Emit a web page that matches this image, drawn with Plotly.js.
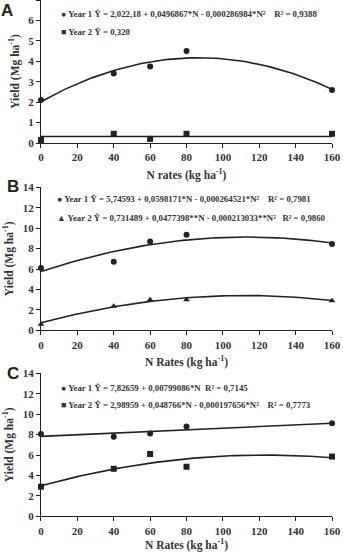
<!DOCTYPE html>
<html>
<head>
<meta charset="utf-8">
<script src="https://cdn.plot.ly/plotly-3.0.1.min.js"></script>
<style>
  html, body { margin: 0; padding: 0; background: #fff; }
  #chart { width: 343px; height: 552px; }
</style>
</head>
<body>
<div id="chart"></div>
<script>
// Nitrogen rates (kg ha-1)
const nRates = [0, 40, 60, 80, 160];

// Panel A – observed yields (Mg ha-1)
const aYear1 = [2.1, 3.4, 3.75, 4.5, 2.6];
const aYear2 = [0.15, 0.45, 0.2, 0.45, 0.45];
// Panel B
const bYear1 = [6.1, 6.7, 8.7, 9.35, 8.45];
const bYear2 = [0.6, 2.35, 3.0, 3.0, 2.9];
// Panel C
const cYear1 = [8.05, 7.8, 8.1, 8.8, 9.1];
const cYear2 = [2.9, 4.65, 6.1, 4.85, 5.85];

// Regression coefficients [b0, b1, b2] : Y = b0 + b1*N + b2*N^2
const aFit1 = [2.02218, 0.0496867, -0.000286984];
const aFit2 = [0.320, 0, 0];
const bFit1 = [5.74593, 0.0598171, -0.000264521];
const bFit2 = [0.731489, 0.0477398, -0.000213033];
const cFit1 = [7.82659, 0.00799086, 0];
const cFit2 = [2.98959, 0.048766, -0.000197656];

// Legend texts
const aLegend = ["Year 1 Ŷ = 2,022,18 + 0,0496867*N - 0,000286984*N²    R² = 0,9388",
                 "Year 2 Ŷ = 0,320"];
const bLegend = ["Year 1 Ŷ = 5,74593 + 0,0598171*N - 0,000264521*N²    R² = 0,7981",
                 "Year 2 Ŷ = 0,731489 + 0,0477398**N - 0,000213033**N²   R² = 0,9860"];
const cLegend = ["Year 1 Ŷ = 7,82659 + 0,00799086*N  R² = 0,7145",
                 "Year 2 Ŷ = 2,98959 + 0,048766*N - 0,000197656*N²    R² = 0,7773"];

const xTicks = [0, 20, 40, 60, 80, 100, 120, 140, 160];

const INK = '#222';
const TXT = '#333';
const SERIF = 'Liberation Serif';

function curve(c) {
  const xs = [], ys = [];
  for (let n = 0; n <= 160; n += 2) {
    xs.push(n);
    ys.push(c[0] + c[1] * n + c[2] * n * n);
  }
  return { xs, ys };
}

function fitTrace(c, ax) {
  const k = curve(c);
  return {
    x: k.xs, y: k.ys, xaxis: 'x' + ax, yaxis: 'y' + ax,
    mode: 'lines', line: { color: INK, width: 1.6 },
    hoverinfo: 'skip', showlegend: false
  };
}

function pointTrace(ys, symbol, size, ax) {
  return {
    x: nRates, y: ys, xaxis: 'x' + ax, yaxis: 'y' + ax,
    mode: 'markers', cliponaxis: false,
    marker: { symbol: symbol, size: size, color: INK },
    showlegend: false
  };
}

const traces = [
  fitTrace(aFit1, ''), fitTrace(aFit2, ''),
  pointTrace(aYear1, 'circle', 6, ''), pointTrace(aYear2, 'square', 6, ''),
  fitTrace(bFit1, '2'), fitTrace(bFit2, '2'),
  pointTrace(bYear1, 'circle', 6, '2'), pointTrace(bYear2, 'triangle-up', 6, '2'),
  fitTrace(cFit1, '3'), fitTrace(cFit2, '3'),
  pointTrace(cYear1, 'circle', 6, '3'), pointTrace(cYear2, 'square', 6, '3')
];

const tickFont = { family: SERIF, size: 11, color: TXT, weight: 700 };
const titleFont = { family: SERIF, size: 11.5, color: TXT, weight: 700 };

function xAxis(anchor, title) {
  return {
    anchor: anchor, domain: [0.1195, 0.968], range: [0, 160],
    tickvals: xTicks, ticks: 'outside', ticklen: 4, tickwidth: 1, tickcolor: INK,
    showline: true, linecolor: INK, linewidth: 1, showgrid: false, zeroline: false,
    tickfont: tickFont,
    title: { text: title, font: titleFont, standoff: 8 }
  };
}

function yAxis(anchor, domain, range, dtick) {
  return {
    anchor: anchor, domain: domain, range: range, dtick: dtick, tick0: 0,
    ticks: 'outside', ticklen: 4, tickwidth: 1, tickcolor: INK,
    showline: true, linecolor: INK, linewidth: 1, showgrid: false, zeroline: false,
    tickfont: tickFont,
    title: { text: 'Yield (Mg ha<sup>-1</sup>)', font: titleFont, standoff: 6 }
  };
}

const legFont = { family: SERIF, size: 8.8, color: TXT, weight: 700 };

function legendLine(text, symbol, x, y) {
  return {
    xref: 'paper', yref: 'paper', x: x, y: y, xanchor: 'left', yanchor: 'middle',
    text: symbol + ' ' + text, showarrow: false, font: legFont
  };
}

function px(yPix) { return (552 - yPix) / 552; }

const letterFont = { family: 'Liberation Sans', size: 17, color: '#222', weight: 700 };

const layout = {
  width: 343, height: 552,
  margin: { l: 0, r: 0, t: 0, b: 0 },
  paper_bgcolor: '#fff', plot_bgcolor: '#fff',
  showlegend: false,
  xaxis: xAxis('y', 'N rates (kg ha<sup>-1</sup>)'),
  yaxis: yAxis('x', [px(143), 1], [0, 7], 1),
  xaxis2: xAxis('y2', 'N Rates (kg ha<sup>-1</sup>)'),
  yaxis2: yAxis('x2', [px(330.3), px(187.3)], [0, 14], 2),
  xaxis3: xAxis('y3', 'N Rates (kg ha<sup>-1</sup>)'),
  yaxis3: yAxis('x3', [px(516.3), px(373.3)], [0, 14], 2),
  annotations: [
    { xref: 'paper', yref: 'paper', x: 0.0, y: 1, xanchor: 'left', yanchor: 'top',
      text: 'A', showarrow: false, font: letterFont, borderpad: 0 },
    { xref: 'paper', yref: 'paper', x: 0.015, y: px(187), xanchor: 'left', yanchor: 'middle',
      text: 'B', showarrow: false, font: letterFont },
    { xref: 'paper', yref: 'paper', x: 0.015, y: px(373), xanchor: 'left', yanchor: 'middle',
      text: 'C', showarrow: false, font: letterFont },
    legendLine(aLegend[0], '●', 59 / 343, px(14)),
    legendLine(aLegend[1], '■', 59 / 343, px(32)),
    legendLine(bLegend[0], '●', 55 / 343, px(199)),
    legendLine(bLegend[1], '▲', 55 / 343, px(217.5)),
    legendLine(cLegend[0], '●', 59 / 343, px(388)),
    legendLine(cLegend[1], '■', 59 / 343, px(405))
  ]
};

Plotly.newPlot('chart', traces, layout, { displayModeBar: false, staticPlot: true });
</script>
</body>
</html>
